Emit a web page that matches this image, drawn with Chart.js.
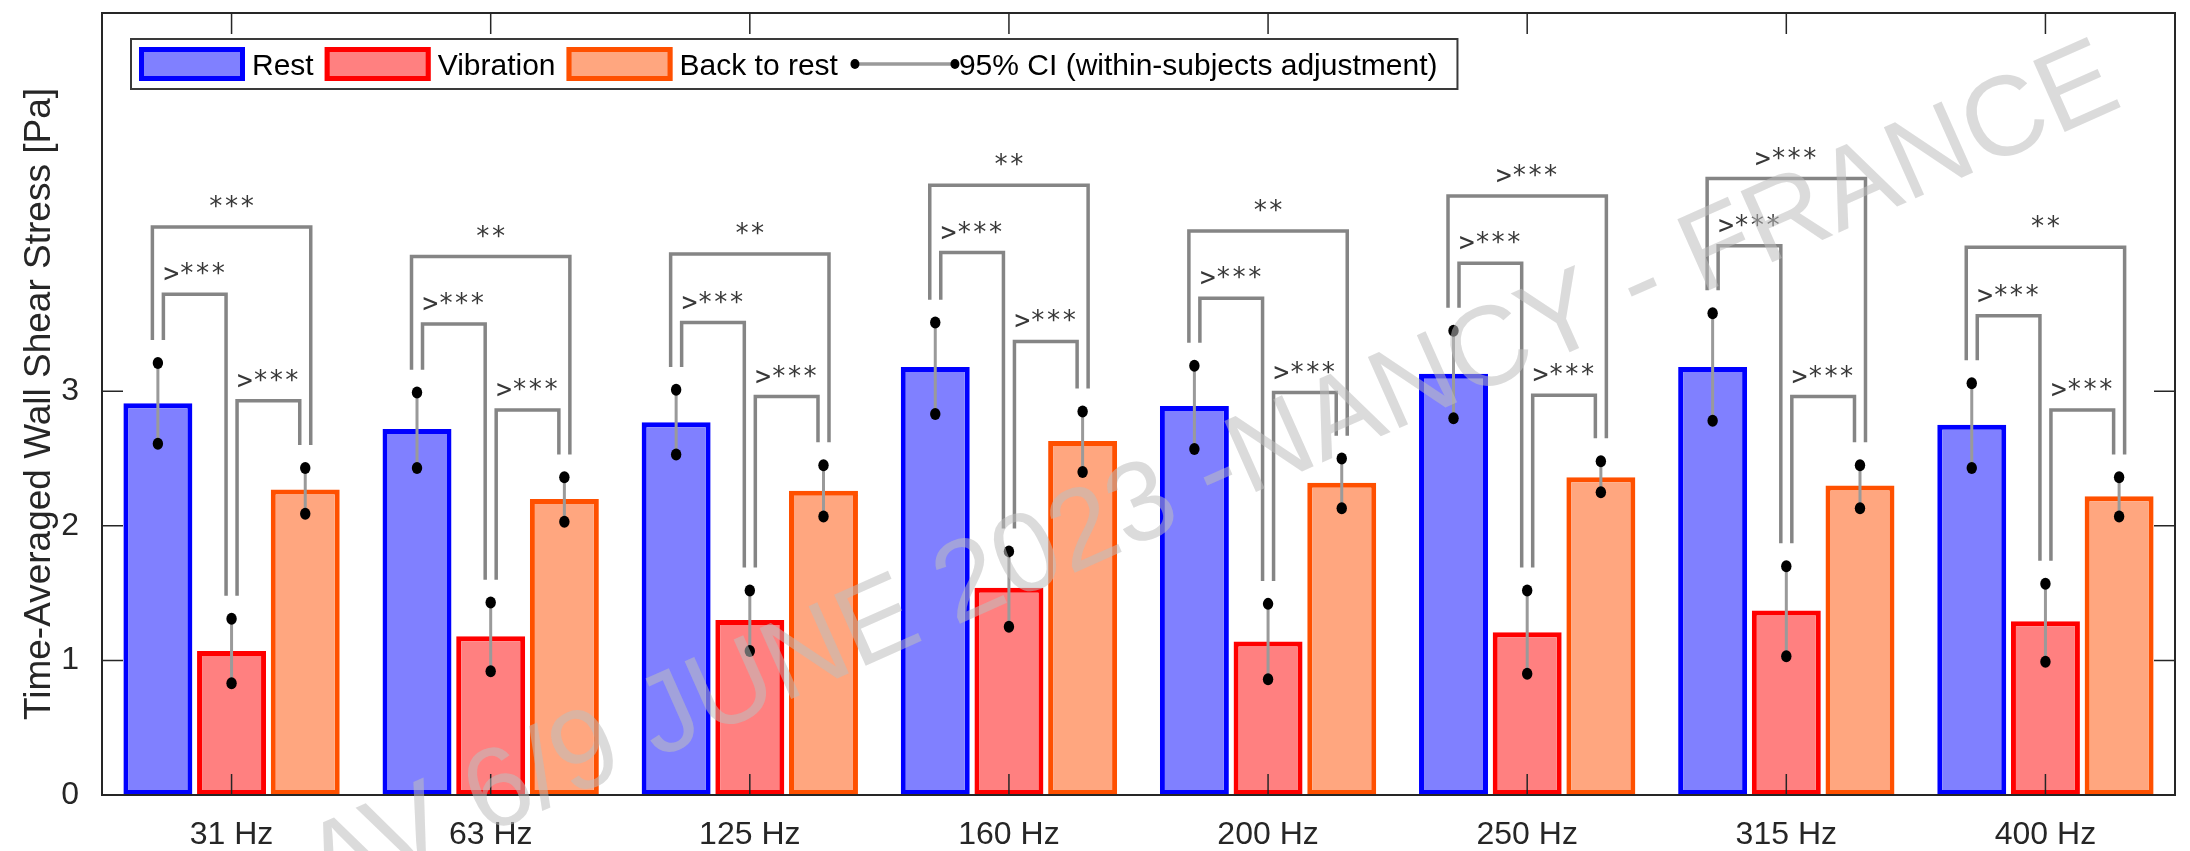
<!DOCTYPE html>
<html lang="en">
<head>
    <meta charset="UTF-8">
    <title>Time-Averaged Wall Shear Stress</title>
    <script src="https://cdn.jsdelivr.net/npm/chart.js@4.4.1/dist/chart.umd.min.js"></script>
    <style>
        html, body { margin: 0; padding: 0; background: #fff; }
        #wrap { width: 2190px; height: 851px; position: relative; }
    </style>
</head>
<body>

<div id="wrap">
    <canvas id="myChart"></canvas>
</div>

<script>
    // values
    var frequencies = ['31 Hz', '63 Hz', '125 Hz', '160 Hz', '200 Hz', '250 Hz', '315 Hz', '400 Hz'];
    var seriesNames = ['Rest', 'Vibration', 'Back to rest'];

    var restMean = [2.91, 2.72, 2.77, 3.18, 2.89, 3.13, 3.18, 2.75];
    var vibMean  = [1.07, 1.18, 1.30, 1.54, 1.14, 1.21, 1.37, 1.29];
    var backMean = [2.27, 2.20, 2.26, 2.63, 2.32, 2.36, 2.30, 2.22];

    // 95% CI bounds
    var restLow  = [2.61, 2.43, 2.53, 2.83, 2.57, 2.80, 2.78, 2.43];
    var restHigh = [3.21, 2.99, 3.01, 3.51, 3.19, 3.45, 3.58, 3.06];
    var vibLow   = [0.83, 0.92, 1.07, 1.25, 0.86, 0.90, 1.03, 0.99];
    var vibHigh  = [1.31, 1.43, 1.52, 1.81, 1.42, 1.52, 1.70, 1.57];
    var backLow  = [2.09, 2.03, 2.07, 2.40, 2.13, 2.25, 2.13, 2.07];
    var backHigh = [2.43, 2.36, 2.45, 2.85, 2.50, 2.48, 2.45, 2.36];

    // significance brackets (height in Pa) and their labels
    var restBackY = [4.22, 4.00, 4.02, 4.53, 4.19, 4.45, 4.58, 4.07];
    var restVibY  = [3.72, 3.50, 3.51, 4.03, 3.69, 3.95, 4.08, 3.56];
    var vibBackY  = [2.93, 2.86, 2.96, 3.37, 2.99, 2.97, 2.96, 2.86];
    var restBackLabel = ['***', '**', '**', '**', '**', '>***', '>***', '**'];
    var restVibLabel  = ['>***', '>***', '>***', '>***', '>***', '>***', '>***', '>***'];
    var vibBackLabel  = ['>***', '>***', '>***', '>***', '>***', '>***', '>***', '>***'];

    var yTicks = [0, 1, 2, 3];
    var ciLabel = '95% CI (within-subjects adjustment)';
    var watermark = 'AV 6/9 JUNE 2023 -NANCY - FRANCE';

    var fills   = ['#8080ff', '#ff8080', '#ffa67f'];
    var borders = ['#0000ff', '#ff0000', '#ff5000'];
    var lows  = [restLow, vibLow, backLow];
    var highs = [restHigh, vibHigh, backHigh];

    var axisColor = '#262626';
    var legGap = 0.17;   // bracket legs stop this far above the CI end
    var legOff = 5.5;    // px between the two legs sitting on one bar

    Chart.defaults.font.family = '"Liberation Sans", Arial, sans-serif';

    var overlay = {
        id: 'overlay',
        afterDatasetsDraw: function(chart) {
            var ctx = chart.ctx;
            var ys = chart.scales.y;
            var xs = chart.scales.x;
            var area = chart.chartArea;
            var metas = [0, 1, 2].map(function(i) { return chart.getDatasetMeta(i); });

            ctx.save();

            // error bars
            for (var d = 0; d < 3; d++) {
                for (var j = 0; j < frequencies.length; j++) {
                    var x = metas[d].data[j].x;
                    var y1 = ys.getPixelForValue(lows[d][j]);
                    var y2 = ys.getPixelForValue(highs[d][j]);
                    ctx.strokeStyle = '#9a9a9a';
                    ctx.lineWidth = 3;
                    ctx.beginPath();
                    ctx.moveTo(x, y1);
                    ctx.lineTo(x, y2);
                    ctx.stroke();
                    ctx.fillStyle = '#000';
                    [y1, y2].forEach(function(yy) {
                        ctx.beginPath();
                        ctx.ellipse(x, yy, 5.2, 6, 0, 0, Math.PI * 2);
                        ctx.fill();
                    });
                }
            }

            // brackets
            function bracket(xa, va, xb, vb, vTop, label) {
                var yt = ys.getPixelForValue(vTop);
                ctx.strokeStyle = '#858585';
                ctx.lineWidth = 3.5;
                ctx.lineJoin = 'miter';
                ctx.beginPath();
                ctx.moveTo(xa, ys.getPixelForValue(va + legGap));
                ctx.lineTo(xa, yt);
                ctx.lineTo(xb, yt);
                ctx.lineTo(xb, ys.getPixelForValue(vb + legGap));
                ctx.stroke();
                ctx.fillStyle = '#383838';
                ctx.font = '26px "DejaVu Sans Mono", monospace';
                ctx.textAlign = 'center';
                ctx.textBaseline = 'alphabetic';
                ctx.fillText(label, (xa + xb) / 2, yt - 12);
            }

            for (var i = 0; i < frequencies.length; i++) {
                var xr = metas[0].data[i].x, xv = metas[1].data[i].x, xb = metas[2].data[i].x;
                bracket(xr - legOff, restHigh[i], xb + legOff, backHigh[i], restBackY[i], restBackLabel[i]);
                bracket(xr + legOff, restHigh[i], xv - legOff, vibHigh[i], restVibY[i], restVibLabel[i]);
                bracket(xv + legOff, vibHigh[i], xb - legOff, backHigh[i], vibBackY[i], vibBackLabel[i]);
            }

            // axes box and inward ticks
            ctx.strokeStyle = axisColor;
            ctx.lineWidth = 2;
            ctx.strokeRect(area.left, area.top, area.right - area.left, area.bottom - area.top);
            ctx.lineWidth = 1.5;
            ctx.beginPath();
            for (var t = 0; t < frequencies.length; t++) {
                var tx = xs.getPixelForTick(t);
                ctx.moveTo(tx, area.bottom);
                ctx.lineTo(tx, area.bottom - 21);
                ctx.moveTo(tx, area.top);
                ctx.lineTo(tx, area.top + 21);
            }
            yTicks.forEach(function(v) {
                var ty = ys.getPixelForValue(v);
                ctx.moveTo(area.left, ty);
                ctx.lineTo(area.left + 21, ty);
                ctx.moveTo(area.right, ty);
                ctx.lineTo(area.right - 21, ty);
            });
            ctx.stroke();

            ctx.restore();
        },
        afterDraw: function(chart) {
            var ctx = chart.ctx;
            var area = chart.chartArea;
            ctx.save();

            // legend inside the axes
            var bx = area.left + 29, by = area.top + 26, bh = 50;
            ctx.font = '30px "Liberation Sans", Arial, sans-serif';
            ctx.textBaseline = 'alphabetic';
            ctx.textAlign = 'left';
            var cur = bx + 8;
            var items = [];
            for (var s = 0; s < 3; s++) {
                items.push({ x: cur, s: s });
                cur += 106 + 7 + ctx.measureText(seriesNames[s]).width + 11;
            }
            var ciX = cur;
            var ciTextX = ciX + 6 + 100 + 4;
            var bw = ciTextX + ctx.measureText(ciLabel).width + 20 - bx;

            ctx.fillStyle = '#fff';
            ctx.fillRect(bx, by, bw, bh);
            ctx.strokeStyle = '#3a3a3a';
            ctx.lineWidth = 2;
            ctx.strokeRect(bx, by, bw, bh);

            items.forEach(function(it) {
                ctx.fillStyle = fills[it.s];
                ctx.fillRect(it.x, by + 8, 106, 34);
                ctx.strokeStyle = borders[it.s];
                ctx.lineWidth = 5;
                ctx.strokeRect(it.x + 2.5, by + 10.5, 101, 29);
                ctx.fillStyle = '#000';
                ctx.fillText(seriesNames[it.s], it.x + 106 + 7, by + 36);
            });

            ctx.strokeStyle = '#9a9a9a';
            ctx.lineWidth = 3.5;
            ctx.beginPath();
            ctx.moveTo(ciX + 6, by + 25);
            ctx.lineTo(ciX + 106, by + 25);
            ctx.stroke();
            ctx.fillStyle = '#000';
            [ciX + 6, ciX + 106].forEach(function(px) {
                ctx.beginPath();
                ctx.ellipse(px, by + 25, 4.5, 5, 0, 0, Math.PI * 2);
                ctx.fill();
            });
            ctx.fillText(ciLabel, ciTextX, by + 36);

            // watermark
            ctx.translate(2125, 105);
            ctx.rotate(-24 * Math.PI / 180);
            ctx.font = '113px "Liberation Sans", Arial, sans-serif';
            ctx.fillStyle = 'rgba(190, 190, 190, 0.55)';
            ctx.textAlign = 'right';
            ctx.textBaseline = 'alphabetic';
            ctx.fillText(watermark, 0, 0);

            ctx.restore();
        }
    };

    var ctx = document.getElementById('myChart').getContext('2d');
    var myChart = new Chart(ctx, {
        type: 'bar',
        data: {
            labels: frequencies,
            datasets: [restMean, vibMean, backMean].map(function(vals, i) {
                return {
                    label: seriesNames[i],
                    data: vals,
                    backgroundColor: fills[i],
                    borderColor: borders[i],
                    borderWidth: 5,
                    borderSkipped: false,
                    barPercentage: 0.936,
                    categoryPercentage: 0.853
                };
            })
        },
        options: {
            responsive: true,
            maintainAspectRatio: false,
            animation: false,
            layout: { padding: { top: 13, right: 15, left: 0, bottom: 0 } },
            plugins: {
                legend: { display: false },
                tooltip: { enabled: false }
            },
            scales: {
                x: {
                    grid: { display: false },
                    border: { display: false },
                    ticks: {
                        font: { size: 32, lineHeight: 1.2 },
                        color: axisColor,
                        padding: 13,
                        maxRotation: 0
                    },
                    afterFit: function(scale) { scale.height = 56; }
                },
                y: {
                    min: 0,
                    max: 5.81,
                    grid: { display: false },
                    border: { display: false },
                    ticks: {
                        font: { size: 32 },
                        color: axisColor,
                        padding: 15
                    },
                    afterBuildTicks: function(scale) {
                        scale.ticks = yTicks.map(function(v) { return { value: v }; });
                    },
                    title: {
                        display: true,
                        text: 'Time-Averaged Wall Shear Stress [Pa]',
                        font: { size: 37, lineHeight: 1.2 },
                        color: axisColor,
                        padding: { top: 18, bottom: 0 }
                    },
                    afterFit: function(scale) {
                        scale.width = 102;
                        scale.paddingTop = 0;
                        scale.paddingBottom = 0;
                    }
                }
            }
        },
        plugins: [overlay]
    });
</script>

</body>
</html>
